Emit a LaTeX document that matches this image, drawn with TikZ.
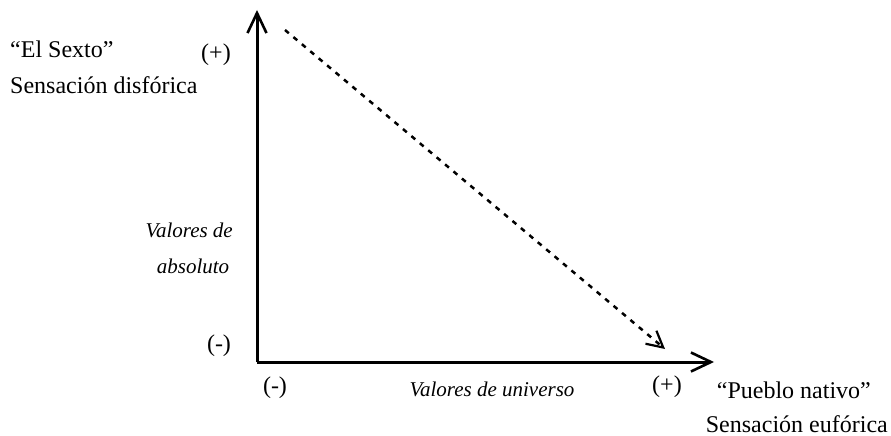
\documentclass[tikz,border=0pt]{standalone}
\usepackage{fontspec}
\setmainfont{Liberation Serif}
\usetikzlibrary{arrows.meta}
\begin{document}
\begin{tikzpicture}[x=1pt,y=-1pt,
  axis/.style={line width=3pt,-{Straight Barb[length=20pt,width=19pt,line width=2.6pt]}},
  dashline/.style={line width=2.5pt,dash pattern=on 5pt off 6pt,-{Straight Barb[length=16pt,width=17pt,line width=2.2pt]}},
  lbl/.style={font=\fontsize{24}{28}\selectfont,inner sep=0pt},
  ilbl/.style={font=\fontsize{21}{25}\selectfont\itshape,inner sep=0pt}]
\useasboundingbox (0,0) rectangle (891,436);
\coordinate (O) at (257,362);
\coordinate (Ytop) at (257,10);
\coordinate (Xend) at (714,362);
\coordinate (D1) at (285,30);
\coordinate (D2) at (665,349);
\draw[axis] (O) -- (Ytop);
\draw[axis] (O) -- (Xend);
\draw[dashline] (D1) -- (D2);
\node[lbl,anchor=base west] (es) at (10,58) {“El Sexto”};
\node[lbl,anchor=base west] (sd) at (10,93) {Sensación disfórica};
\node[lbl,anchor=base] (yp) at (216,61) {(+)};
\node[ilbl,anchor=base east] (va1) at (233,237) {Valores de};
\node[ilbl,anchor=base] (va2) at (193,273) {absoluto};
\node[lbl,anchor=base] (ym) at (219,351) {(-)};
\node[lbl,anchor=base] (xm) at (275,393) {(-)};
\node[ilbl,anchor=base] (vu) at (492,396) {Valores de universo};
\node[lbl,anchor=base] (xp) at (667,392) {(+)};
\node[lbl,anchor=base east] (pn) at (871,398) {“Pueblo nativo”};
\node[lbl,anchor=base east] (se) at (888,432) {Sensación eufórica};
\end{tikzpicture}
\end{document}
